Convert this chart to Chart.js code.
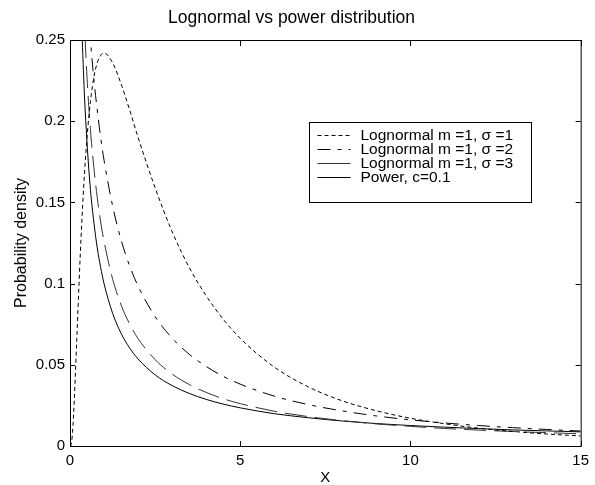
<!DOCTYPE html>
<html lang="en">
<head>
<meta charset="utf-8">
<title>Lognormal vs power distribution</title>
<script src="https://cdn.jsdelivr.net/npm/chart.js@4.4.1/dist/chart.umd.min.js"></script>
<style>
  html, body { margin: 0; padding: 0; background: #fff; }
  canvas { display: block; }
</style>
</head>
<body>
<canvas id="grafico" width="595" height="485"></canvas>
<script>
// 1) Dados (null = curva fora da área, acima de 0.25)
const xValores = [0, 0.002, 0.005, 0.05, 0.1, 0.2, 0.3, 0.4, 0.5, 0.6, 0.7, 0.8, 0.9,
  1, 1.25, 1.5, 1.75, 2, 2.5, 3, 3.5, 4, 4.5, 5, 6, 7, 8, 9, 10, 11, 12, 13, 14, 15];

const lognormalS1 = [0, 0, 0, 0.0027, 0.0171, 0.0663, 0.117, 0.159, 0.190, 0.212, 0.227, 0.236, 0.2406,
  0.242, 0.236, 0.223, 0.207, 0.190, 0.159, 0.132, 0.110, 0.0925, 0.0781, 0.0663,
  0.0486, 0.0364, 0.0278, 0.0217, 0.0171, 0.0137, 0.0110, 0.0090, 0.0074, 0.0062];

const lognormalS2 = [0, 0.149, 0.280, null, null, null, null, 0.315, 0.279, 0.250, 0.226, 0.207, 0.190,
  0.176, 0.148, 0.127, 0.111, 0.0985, 0.0797, 0.0664, 0.0565, 0.0490, 0.0429, 0.0381,
  0.0307, 0.0255, 0.0216, 0.0185, 0.0161, 0.0142, 0.0126, 0.0113, 0.0102, 0.0092];

const lognormalS3 = [null, null, null, null, null, null, null, 0.271, 0.227, 0.195, 0.1715, 0.153, 0.138,
  0.126, 0.103, 0.0869, 0.0752, 0.0661, 0.0532, 0.0443, 0.0379, 0.0330, 0.0291, 0.0261,
  0.0214, 0.0181, 0.0156, 0.0136, 0.0121, 0.0108, 0.0098, 0.0089, 0.0082, 0.0075];

const potencia = [null, null, null, null, null, 0.426, 0.296, 0.228, 0.187, 0.158, 0.138, 0.122, 0.110,
  0.100, 0.0818, 0.0694, 0.0604, 0.0536, 0.0438, 0.0372, 0.0324, 0.0287, 0.0258, 0.0235,
  0.0199, 0.0174, 0.0154, 0.0138, 0.0126, 0.0116, 0.0107, 0.0099, 0.0093, 0.0087];

const xTicks = [0, 5, 10, 15];
const yTicks = [0, 0.05, 0.1, 0.15, 0.2, 0.25];
const rotulos = ['Lognormal m =1, σ =1', 'Lognormal m =1, σ =2', 'Lognormal m =1, σ =3', 'Power, c=0.1'];

const FONTE = '"Liberation Sans", Arial, Helvetica, sans-serif';

function pontos(serie) {
  return xValores.map((x, i) => ({ x, y: serie[i] }));
}

// 2) Moldura dos eixos, ticks para dentro e legenda dentro da área
const molduraPlugin = {
  id: 'moldura',
  afterDatasetsDraw(chart) {
    const { ctx, chartArea: a, scales } = chart;
    ctx.save();
    ctx.strokeStyle = '#000';
    ctx.lineWidth = 1;
    ctx.setLineDash([]);
    ctx.strokeRect(a.left + 0.5, a.top + 0.5, a.right - a.left, a.bottom - a.top);

    ctx.beginPath();
    xTicks.forEach(v => {
      const px = Math.round(scales.x.getPixelForValue(v)) + 0.5;
      ctx.moveTo(px, a.bottom); ctx.lineTo(px, a.bottom - 5);
      ctx.moveTo(px, a.top); ctx.lineTo(px, a.top + 6);
    });
    yTicks.forEach(v => {
      const py = Math.round(scales.y.getPixelForValue(v)) + 0.5;
      ctx.moveTo(a.left, py); ctx.lineTo(a.left + 5, py);
      ctx.moveTo(a.right, py); ctx.lineTo(a.right - 5, py);
    });
    ctx.stroke();

    // legenda
    const lx = a.left + 239.5;
    const ly = a.top + 82.5;
    ctx.fillStyle = '#fff';
    ctx.fillRect(lx, ly, 222, 80);
    ctx.strokeRect(lx, ly, 222, 80);
    ctx.font = '15.5px ' + FONTE;
    ctx.textBaseline = 'middle';
    chart.data.datasets.forEach((ds, i) => {
      const y = Math.round(ly + 12 + i * 14) + 0.5;
      ctx.strokeStyle = ds.borderColor;
      ctx.setLineDash(ds.legendaDash || ds.borderDash || []);
      ctx.beginPath();
      ctx.moveTo(lx + 8, y);
      ctx.lineTo(lx + 41, y);
      ctx.stroke();
      ctx.setLineDash([]);
      ctx.fillStyle = '#000';
      ctx.fillText(ds.label, lx + 51, y + 0.5);
    });
    ctx.restore();
  }
};

// 3) Gráfico
new Chart(document.getElementById('grafico'), {
  type: 'line',
  data: {
    datasets: [
      { label: rotulos[0], data: pontos(lognormalS1), borderColor: '#000', borderWidth: 1, borderDash: [4, 3] },
      { label: rotulos[1], data: pontos(lognormalS2), borderColor: '#000', borderWidth: 1, borderDash: [13, 7, 4, 7] },
      { label: rotulos[2], data: pontos(lognormalS3), borderColor: '#333', borderWidth: 1, borderDash: [22, 8], legendaDash: [] },
      { label: rotulos[3], data: pontos(potencia), borderColor: '#000', borderWidth: 1 }
    ]
  },
  options: {
    responsive: false,
    animation: false,
    devicePixelRatio: 1,
    layout: { padding: { left: 0, right: 12, top: 0, bottom: 0 } },
    elements: {
      point: { radius: 0 },
      line: { cubicInterpolationMode: 'monotone', fill: false }
    },
    datasets: { line: { clip: 0, spanGaps: false } },
    plugins: {
      legend: { display: false },
      tooltip: { enabled: false },
      title: {
        display: true,
        text: 'Lognormal vs power distribution',
        color: '#000',
        font: { family: FONTE, size: 17.5, weight: 'normal', lineHeight: 1.2 },
        padding: { top: 8, bottom: 11 }
      }
    },
    scales: {
      x: {
        type: 'linear',
        min: 0,
        max: 15,
        grid: { display: false, drawTicks: false },
        border: { display: false },
        afterBuildTicks: s => { s.ticks = xTicks.map(value => ({ value })); },
        afterFit: s => { s.height = 39; },
        ticks: { color: '#000', padding: 6, maxRotation: 0, font: { family: FONTE, size: 15 }, callback: v => String(v) },
        title: { display: true, text: 'X', color: '#000', font: { family: FONTE, size: 15, lineHeight: 1 }, padding: { top: 0, bottom: 0 } }
      },
      y: {
        type: 'linear',
        min: 0,
        max: 0.25,
        grid: { display: false, drawTicks: false },
        border: { display: false },
        afterBuildTicks: s => { s.ticks = yTicks.map(value => ({ value })); },
        afterFit: s => { s.width = 70; },
        ticks: { color: '#000', padding: 5, font: { family: FONTE, size: 15 }, callback: v => String(v) },
        title: { display: true, text: 'Probability density', color: '#000', font: { family: FONTE, size: 16 }, padding: { top: 12, bottom: 0 } }
      }
    }
  },
  plugins: [molduraPlugin]
});
</script>
</body>
</html>
